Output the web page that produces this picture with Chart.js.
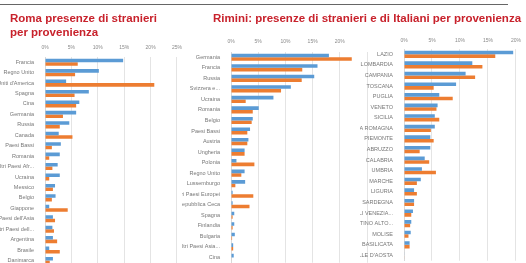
<!DOCTYPE html>
<html lang="it">
<head>
<meta charset="UTF-8">
<title>Roma e Rimini - presenze per provenienza</title>
<script src="https://cdn.jsdelivr.net/npm/chart.js"></script>
<style>
    body { margin: 0; width: 526px; height: 263px; overflow: hidden; position: relative; background: #fff; font-family: "Liberation Sans", Arial, sans-serif; }
    .riga { position: absolute; left: 0; top: 4px; width: 508px; height: 1px; background: #666; }
    .titolo { position: absolute; color: #c8222c; font-weight: bold; font-size: 11.5px; line-height: 14px; white-space: nowrap; z-index: 2; }
    canvas { position: absolute; }
</style>
</head>
<body>
<div class="riga"></div>

<canvas id="chartRoma" width="188" height="235" style="left:0px; top:37px;"></canvas>
<canvas id="chartRimini" width="192" height="239" style="left:182px; top:30px;"></canvas>
<canvas id="chartItalia" width="166" height="267" style="left:360px; top:0px;"></canvas>

<div class="titolo" style="left:10px; top:11px;">Roma presenze di stranieri<br>per provenienza</div>
<div class="titolo" style="left:213px; top:11px;">Rimini: presenze di stranieri e di Italiani per provenienza</div>

<script>
    // Roma - stranieri per provenienza (valori in %)
    var romaPaesi = ['Francia', 'Regno Unito', "Stati Uniti d'America", 'Spagna', 'Cina', 'Germania', 'Russia', 'Canada',
        'Paesi Bassi', 'Romania', 'Altri Paesi Afr...', 'Ucraina', 'Messico', 'Belgio', 'Giappone',
        "Altri Paesi dell'Asia", "Altri Paesi dell...", 'Argentina', 'Brasile', 'Danimarca'];
    var romaBlu = [14.8, 10.2, 4.0, 8.3, 6.5, 5.9, 4.6, 2.6, 3.0, 2.8, 2.4, 2.8, 1.9, 2.0, 0.8, 1.5, 1.4, 1.5, 0.8, 1.5];
    var romaArancio = [6.2, 5.7, 20.7, 5.6, 5.9, 3.4, 2.8, 5.2, 1.3, 0.8, 1.4, 0.8, 1.5, 1.3, 4.3, 1.9, 1.7, 2.3, 2.8, 0.9];

    // Rimini - stranieri
    var riminiPaesi = ['Germania', 'Francia', 'Russia', 'Svizzera e...', 'Ucraina', 'Romania', 'Belgio', 'Paesi Bassi',
        'Austria', 'Ungheria', 'Polonia', 'Regno Unito', 'Lussemburgo', 'Altri Paesi Europei', 'Repubblica Ceca',
        'Spagna', 'Finlandia', 'Bulgaria', 'Altri Paesi Asia...', 'Cina'];
    var riminiBlu = [18.0, 15.9, 15.3, 11.0, 7.8, 5.1, 4.0, 3.5, 3.2, 2.5, 1.0, 2.5, 2.6, 0.3, 0.3, 0.6, 0.6, 0.7, 0.4, 0.5];
    var riminiArancio = [22.2, 13.1, 13.0, 9.2, 2.7, 4.0, 3.8, 3.0, 3.0, 2.5, 4.3, 1.9, 0.8, 4.1, 3.4, 0.3, 0.3, 0.2, 0.4, 0.1];

    // Rimini - italiani per regione
    var regioni = ['LAZIO', 'LOMBARDIA', 'CAMPANIA', 'TOSCANA', 'PUGLIA', 'VENETO', 'SICILIA', 'EMILIA ROMAGNA',
        'PIEMONTE', 'ABRUZZO', 'CALABRIA', 'UMBRIA', 'MARCHE', 'LIGURIA', 'SARDEGNA', 'FRIULI VENEZIA...',
        'TRENTINO ALTO...', 'MOLISE', 'BASILICATA', "VALLE D'AOSTA"];
    var regioniBlu = [19.5, 12.2, 11.0, 9.3, 6.3, 6.0, 5.5, 5.5, 4.7, 4.7, 3.7, 3.2, 3.0, 1.8, 1.8, 1.6, 1.3, 1.2, 1.0, 0.1];
    var regioniArancio = [16.3, 14.0, 12.7, 5.3, 8.7, 5.8, 6.3, 4.8, 5.3, 2.8, 4.5, 5.7, 2.3, 2.3, 1.8, 1.3, 1.1, 0.8, 1.0, 0.1];

    var BLU = '#5b9bd5';
    var ARANCIO = '#ed7d31';

    function graficoBarre(id, etichette, blu, arancio, larghezzaY, altezzaX, padTick, massimo, nascondi25) {
        var ctx = document.getElementById(id);
        return new Chart(ctx, {
            type: 'bar',
            data: {
                labels: etichette,
                datasets: [
                    { data: blu, backgroundColor: BLU, categoryPercentage: 0.68, barPercentage: 1 },
                    { data: arancio, backgroundColor: ARANCIO, categoryPercentage: 0.68, barPercentage: 1 }
                ]
            },
            options: {
                indexAxis: 'y',
                responsive: false,
                animation: false,
                devicePixelRatio: 1,
                layout: { padding: { left: 0, right: 2, top: 0, bottom: 0 } },
                plugins: { legend: { display: false }, tooltip: { enabled: false } },
                scales: {
                    x: {
                        position: 'top',
                        min: 0,
                        max: massimo,
                        ticks: {
                            stepSize: 5,
                            padding: padTick,
                            autoSkip: false,
                            minRotation: 0,
                            maxRotation: 0,
                            color: '#8a8a8a',
                            font: { size: 5, family: 'Liberation Sans' },
                            callback: function (v) { return (nascondi25 && v >= 25) ? '' : v + '%'; }
                        },
                        grid: { color: '#e4e4e4', drawTicks: false },
                        border: { display: false },
                        afterFit: function (scale) { scale.height = altezzaX; }
                    },
                    y: {
                        ticks: {
                            autoSkip: false,
                            padding: 3,
                            color: '#777',
                            font: { size: 5.5, family: 'Liberation Sans' }
                        },
                        grid: { display: false },
                        border: { display: true, color: '#d9d9d9' },
                        afterFit: function (scale) { scale.width = larghezzaY; }
                    }
                }
            }
        });
    }

    graficoBarre('chartRoma', romaPaesi, romaBlu, romaArancio, 45, 20, 6, 25, false);
    graficoBarre('chartRimini', riminiPaesi, riminiBlu, riminiArancio, 49, 22, 7, 25, true);
    graficoBarre('chartItalia', regioni, regioniBlu, regioniArancio, 44, 49, 5, 20, false);
</script>
</body>
</html>
